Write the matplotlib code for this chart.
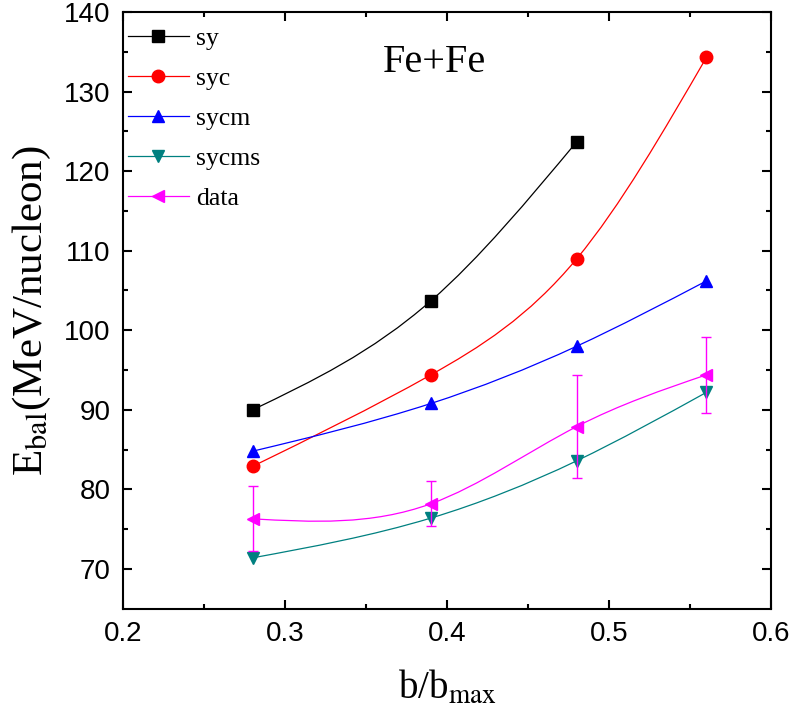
import numpy as np
import matplotlib.pyplot as plt
from matplotlib.path import Path
from matplotlib.patches import PathPatch
from matplotlib.lines import Line2D

plt.rcParams['mathtext.fontset'] = 'stix'

# values
b_ratio = [0.28, 0.39, 0.48, 0.56]
sy = [90.0, 103.7, 123.7]
syc = [82.9, 94.4, 109.0, 134.3]
sycm = [84.8, 90.8, 98.0, 106.2]
sycms = [71.4, 76.4, 83.6, 92.2]
data = [76.3, 78.2, 87.9, 94.4]
data_err = [4.1, 2.8, 6.5, 4.8]

series_names = ['sy', 'syc', 'sycm', 'sycms', 'data']
colors = ['black', 'red', 'blue', '#008080', 'magenta']
markers = ['s', 'o', '^', 'v', '<']


def spline_path(x, y):
    # natural cubic spline written as cubic Bezier segments
    x = np.asarray(x, float)
    y = np.asarray(y, float)
    n = len(x)
    h = np.diff(x)
    A = np.zeros((n, n))
    r = np.zeros(n)
    A[0, 0] = A[-1, -1] = 1
    for i in range(1, n - 1):
        A[i, i - 1] = h[i - 1]
        A[i, i] = 2 * (h[i - 1] + h[i])
        A[i, i + 1] = h[i]
        r[i] = 6 * ((y[i + 1] - y[i]) / h[i] - (y[i] - y[i - 1]) / h[i - 1])
    M = np.linalg.solve(A, r)
    verts = [(x[0], y[0])]
    codes = [Path.MOVETO]
    for i in range(n - 1):
        s = (y[i + 1] - y[i]) / h[i]
        d0 = s - h[i] * (2 * M[i] + M[i + 1]) / 6
        d1 = s + h[i] * (M[i] + 2 * M[i + 1]) / 6
        verts += [(x[i] + h[i] / 3, y[i] + d0 * h[i] / 3),
                  (x[i + 1] - h[i] / 3, y[i + 1] - d1 * h[i] / 3),
                  (x[i + 1], y[i + 1])]
        codes += [Path.CURVE4] * 3
    return Path(verts, codes)


fig = plt.figure(figsize=(7.96, 7.23), dpi=100)
ax = fig.add_axes([0.1545, 0.158, 0.8145, 0.8255])

all_y = [sy, syc, sycm, sycms, data]
for name, yv, c, m in zip(series_names, all_y, colors, markers):
    xv = b_ratio[:len(yv)]
    ax.add_patch(PathPatch(spline_path(xv, yv), facecolor='none',
                           edgecolor=c, lw=0.9, zorder=2))
    if name == 'data':
        ax.errorbar(xv, yv, yerr=data_err, fmt='none', ecolor=c,
                    elinewidth=1.0, capsize=3.5, capthick=1.0, zorder=4)
    ax.plot(xv, yv, ls='none', marker=m, color=c, markersize=9, zorder=3)

handles = [Line2D([], [], color=c, marker=m, lw=0.9, markersize=9)
           for c, m in zip(colors, markers)]
leg = ax.legend(handles, series_names, loc='upper left',
                bbox_to_anchor=(0.0, 0.983), frameon=False,
                handlelength=2.35, handletextpad=0.3, labelspacing=0.66,
                borderaxespad=0.1, borderpad=0.1,
                prop={'family': 'Liberation Serif', 'size': 18.5})

ax.text(0.48, 0.915, 'Fe+Fe', transform=ax.transAxes, ha='center',
        va='center', family='Liberation Serif', fontsize=29)

ax.set_xlim(0.2, 0.6)
ax.set_ylim(65, 140)
ax.set_xticks(np.arange(0.2, 0.61, 0.1))
ax.set_xticks(np.arange(0.25, 0.6, 0.1), minor=True)
ax.set_yticks(np.arange(70, 141, 10))
ax.set_yticks(np.arange(75, 140, 10), minor=True)
ax.tick_params(which='both', direction='in', top=True, right=True, width=1.5)
ax.tick_params(which='major', length=6.5, labelsize=20, pad=9)
ax.tick_params(which='minor', length=3.5)
for lab in ax.get_xticklabels() + ax.get_yticklabels():
    lab.set_family('Liberation Sans')
for sp in ax.spines.values():
    sp.set_linewidth(1.5)

ax.set_xlabel(r'b/b$_{\rm max}$', family='Liberation Serif', fontsize=28,
              labelpad=16)
ax.set_ylabel(r'E$_{\rm bal}$(MeV/nucleon)', family='Liberation Serif',
              fontsize=31, labelpad=8)

fig.savefig('out.png', dpi=100)
